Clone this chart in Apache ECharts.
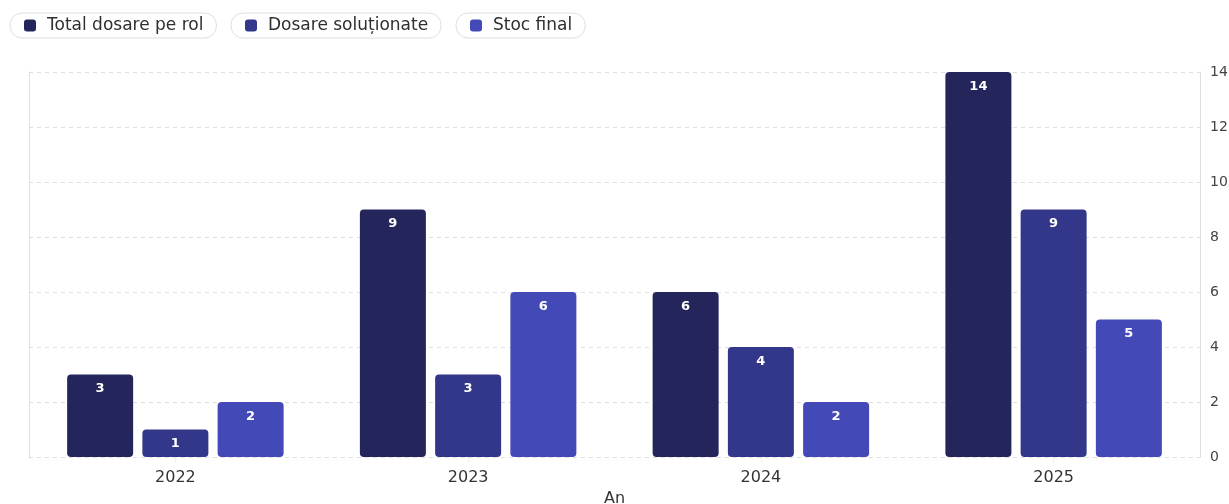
<!DOCTYPE html>
<html>
<head>
<meta charset="utf-8">
<script src="https://cdn.jsdelivr.net/npm/echarts@6/dist/echarts.min.js"></script>
<style>
html,body{margin:0;padding:0;background:#fff;}
#chart{width:1229px;height:504px;}
</style>
</head>
<body>
<div id="chart"></div>
<script>
const categories = ['2022', '2023', '2024', '2025'];
const totalDosare = [3, 9, 6, 14];
const dosareSolutionate = [1, 3, 4, 9];
const stocFinal = [2, 6, 2, 5];
const yTicks = [0, 2, 4, 6, 8, 10, 12, 14];

const seriesNames = ['Total dosare pe rol', 'Dosare soluționate', 'Stoc final'];
const colors = ['#23255b', '#333789', '#4349b7'];
const font = '"DejaVu Sans", sans-serif';

const chart = echarts.init(document.getElementById('chart'));

function legendFor(name, left) {
  return {
    data: [name],
    left: left, top: 13,
    icon: 'roundRect',
    itemWidth: 12, itemHeight: 12,
    padding: [4, 13, 4, 14],
    backgroundColor: '#fff',
    borderColor: '#dedee4', borderWidth: 1, borderRadius: 12,
    textStyle: { fontFamily: font, fontSize: 17, lineHeight: 16, color: '#2f2f2f', padding: [0, 0, 0, 6] }
  };
}

const labelCfg = {
  show: true, position: 'insideTop', distance: 8,
  color: '#fff', fontWeight: 'bold', fontSize: 13, fontFamily: font
};

chart.setOption({
  animation: false,
  color: colors,
  legend: [legendFor(seriesNames[0], 10), legendFor(seriesNames[1], 231), legendFor(seriesNames[2], 456)],
  grid: { left: 29, right: 29, top: 72, bottom: 47, containLabel: false, outerBoundsMode: 'none' },
  xAxis: {
    type: 'category',
    data: categories,
    name: 'An', nameLocation: 'middle', nameGap: 33,
    nameTextStyle: { fontFamily: font, fontSize: 16, color: '#333' },
    axisLine: { show: false },
    axisTick: { show: true, alignWithLabel: true, length: 5, lineStyle: { color: '#e0e0e0', type: 'dotted' } },
    axisLabel: { fontFamily: font, fontSize: 16, color: '#333', margin: 13 }
  },
  yAxis: [{
    type: 'value', position: 'right',
    min: 0, max: 14, interval: 2,
    axisLine: { show: true, lineStyle: { color: '#d8d8d8', type: 'dotted' } },
    axisTick: { show: false },
    axisLabel: { fontFamily: font, fontSize: 14, color: '#444', margin: 10,
      formatter: v => yTicks.includes(v) ? String(v) : '' },
    splitLine: { lineStyle: { color: '#dedede', type: [4, 4] } }
  }, {
    type: 'value', position: 'left',
    min: 0, max: 14, interval: 2,
    axisLine: { show: true, lineStyle: { color: '#d8d8d8', type: 'dotted' } },
    axisTick: { show: false }, axisLabel: { show: false }, splitLine: { show: false }
  }],
  series: [
    { name: seriesNames[0], type: 'bar', data: totalDosare, barWidth: 66, barGap: '14%',
      itemStyle: { color: colors[0], borderRadius: 4 }, label: labelCfg },
    { name: seriesNames[1], type: 'bar', data: dosareSolutionate, barWidth: 66, barGap: '14%',
      itemStyle: { color: colors[1], borderRadius: 4 }, label: labelCfg },
    { name: seriesNames[2], type: 'bar', data: stocFinal, barWidth: 66, barGap: '14%',
      itemStyle: { color: colors[2], borderRadius: 4 }, label: labelCfg }
  ]
});
</script>
</body>
</html>
